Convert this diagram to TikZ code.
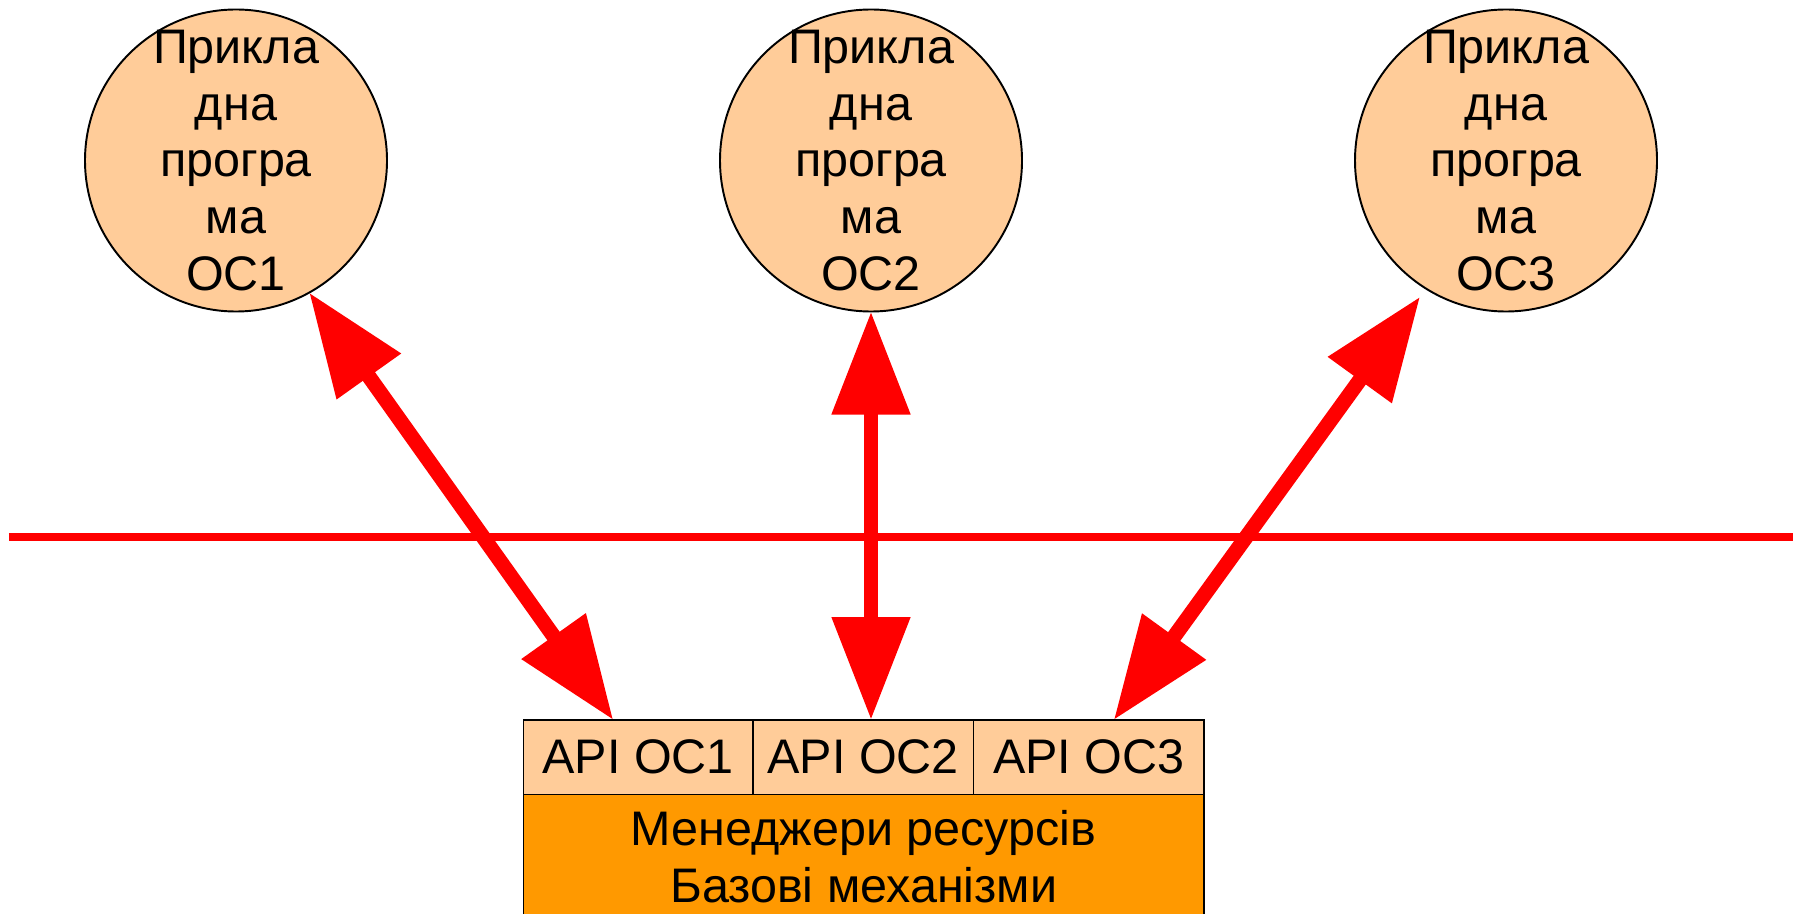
\documentclass[tikz,border=0pt]{standalone}
\usepackage{fontspec}
\setmainfont{Liberation Sans}
\usepackage{tikz}
\usetikzlibrary{arrows.meta, positioning, calc}
\definecolor{peach}{HTML}{FFCC99}
\definecolor{baseorange}{HTML}{FF9900}
\tikzset{
    app_circle/.style={
        circle, draw=black, line width=1.1pt, fill=peach,
        minimum size=6.04cm, inner sep=-0.12cm, outer sep=0pt,
        align=center, font=\fontsize{27.6}{32.4}\selectfont
    },
    api_cell/.style={
        rectangle, draw=black, line width=1.1pt, fill=peach,
        minimum height=1.49cm, inner sep=0pt, outer sep=0pt,
        align=center, font=\fontsize{27.6}{32.4}\selectfont
    },
    base_box/.style={
        rectangle, draw=black, line width=1.1pt, fill=baseorange,
        minimum width=13.61cm, minimum height=2.5cm, inner sep=0pt, outer sep=0pt,
        align=center, font=\fontsize{27.6}{32.4}\selectfont
    },
    link_arrow/.style={
        {Triangle[length=2.06cm, width=1.5cm]}-{Triangle[length=2.06cm, width=1.5cm]},
        draw=red, line width=8.5pt
    },
    border_line/.style={
        draw=red, line width=4.2pt
    }
}
\begin{document}
\begin{tikzpicture}

    \useasboundingbox (0,0) rectangle (36,-18.28);

    \node[app_circle] (app1) at (4.72, -3.21) {Прикла\\дна\\програ\\ма\\ОС1};
    \node[app_circle] (app2) at (17.42, -3.21) {Прикла\\дна\\програ\\ма\\ОС2};
    \node[app_circle] (app3) at (30.12, -3.21) {Прикла\\дна\\програ\\ма\\ОС3};

    \node[api_cell, minimum width=4.59cm] (api1) at (12.765, -15.145) {API ОС1};
    \node[api_cell, minimum width=4.41cm, right=0pt of api1] (api2) {API ОС2};
    \node[api_cell, minimum width=4.61cm, right=0pt of api2] (api3) {API ОС3};
    \node[base_box, anchor=north] (base) at (17.275, -15.89) {Менеджери ресурсів\\Базові механізми};

    \coordinate (lineL) at (0.18, -10.74);
    \coordinate (lineR) at (35.86, -10.74);
    \draw[border_line] (lineL) -- (lineR);

    \coordinate (end1) at ($(api1.north)+(-0.5,0)$);
    \coordinate (end2) at (app2.south |- api2.north);
    \coordinate (end3) at ($(api3.north)+(0.5,0)$);

    \draw[link_arrow] (app1.-61) -- (end1);
    \draw[link_arrow] (app2.south) -- (end2);
    \draw[link_arrow, shorten <=0.2cm] (app3.-122) -- (end3);

\end{tikzpicture}
\end{document}
